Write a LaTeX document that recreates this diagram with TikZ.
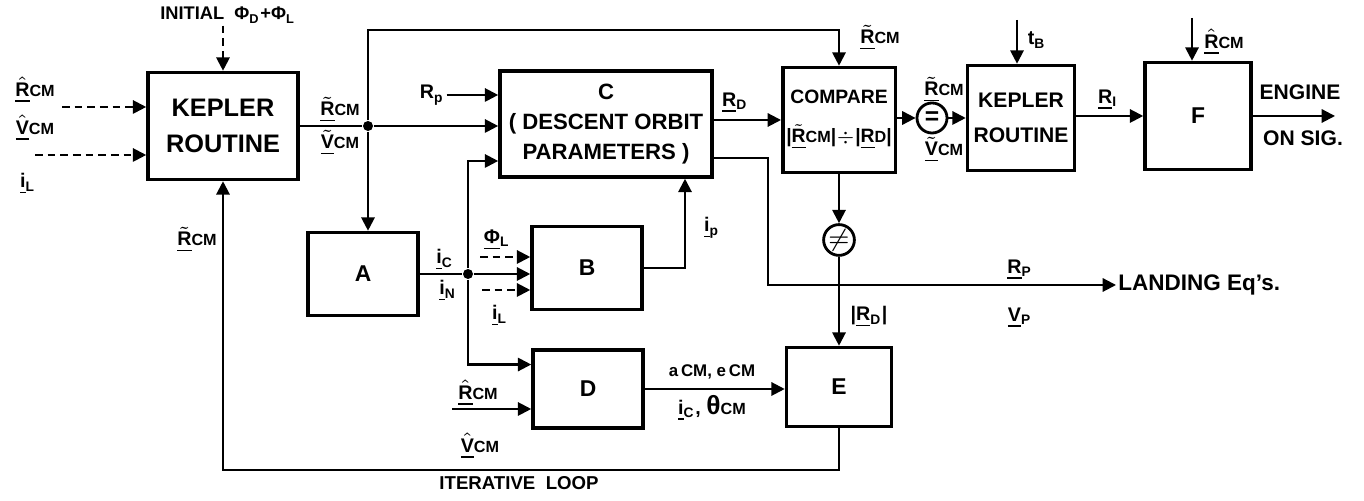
\documentclass[tikz,border=0pt]{standalone}
\usepackage{fontspec}
\setmainfont{Liberation Sans}
\usetikzlibrary{arrows.meta,calc}
\newcommand{\tilv}[1]{$\tilde{\mbox{\underline{#1}}}$}
\newcommand{\hatv}[1]{$\hat{\mbox{\underline{#1}}}$}
\newcommand{\sbs}[1]{{\fontsize{4.6}{5}\selectfont #1}}
\tikzset{
  blk/.style={draw, line width=1pt, align=center, inner sep=1pt, font=\fontsize{6.5}{9}\selectfont\bfseries},
  lab/.style={inner sep=0.5pt, align=center, font=\fontsize{5.6}{6.5}\selectfont\bfseries},
  arr/.style={line width=0.6pt, -{Triangle[length=3.8pt,width=3.8pt]}},
  darr/.style={arr, dash pattern=on 2.2pt off 1.4pt},
  jn/.style={circle, fill, inner sep=0pt, minimum size=1mm},
  cmpc/.style={draw, circle, line width=0.8pt, inner sep=0pt, minimum size=3mm, font=\fontsize{7}{8}\selectfont\bfseries}
}
\begin{document}
\begin{tikzpicture}[x=0.01cm,y=-0.01cm]
\useasboundingbox (0,0) rectangle (1364,501);
% blocks
\node[blk, font=\fontsize{7.2}{10}\selectfont\bfseries, minimum width=1.5cm, minimum height=1.07cm] (kep1) at (223,126) {KEPLER\\ROUTINE};
\node[blk, font=\fontsize{6.3}{8.6}\selectfont\bfseries, minimum width=2.12cm, minimum height=1.06cm] (cbox) at (606,124) {C\\( DESCENT ORBIT\\PARAMETERS )};
\node[blk, font=\fontsize{5.5}{9}\selectfont\bfseries, minimum width=1.08cm, minimum height=1.05cm] (cmp) at (839,120) {COMPARE\\[2pt]|\tilv{R}\sbs{CM}|$\div$|\underline{R}\sbs{D}|};
\node[blk, font=\fontsize{6}{10}\selectfont\bfseries, minimum width=1.07cm, minimum height=1.05cm] (kep2) at (1021,118) {KEPLER\\ROUTINE};
\node[blk, minimum width=1.06cm, minimum height=1.07cm] (fbox) at (1198,116) {F};
\node[blk, minimum width=1.1cm, minimum height=0.83cm] (abox) at (363,274) {A};
\node[blk, minimum width=1.1cm, minimum height=0.83cm] (bbox) at (587,268) {B};
\node[blk, minimum width=1.1cm, minimum height=0.78cm] (dbox) at (588,389) {D};
\node[blk, minimum width=1.05cm, minimum height=0.79cm] (ebox) at (839,387) {E};
\node[cmpc] (neq) at (839,240) {$\neq$};
\node[cmpc] (eqc) at (932,118) {=};
\node[jn] (j1) at (368,126) {};
\node[jn] (j2) at (468,274) {};
% labels
\node[lab, font=\fontsize{5.2}{6}\selectfont\bfseries] (initlab) at (228,15) {INITIAL\ \ Φ\textsubscript{D}+Φ\textsubscript{L}};
\node[lab] (rhlab) at (35,90) {\hatv{R}\sbs{CM}};
\node[lab] (vhlab) at (35,128) {\hatv{V}\sbs{CM}};
\node[lab] (illab) at (28,184) {\underline{i}\textsubscript{L}};
\node[lab] (rtlab) at (340,110) {\tilv{R}\sbs{CM}};
\node[lab] (vtlab) at (340,143) {\tilv{V}\sbs{CM}};
\node[lab] (rplab) at (432,95) {R\textsubscript{p}};
\node[lab] (looplab) at (197,240) {\tilv{R}\sbs{CM}};
\node[lab] (rdlab) at (735,103) {\underline{R}\textsubscript{D}};
\node[lab] (rclab) at (880,38) {\tilv{R}\sbs{CM}};
\node[lab] (rqlab) at (944,90) {\tilv{R}\sbs{CM}};
\node[lab] (vqlab) at (944,150) {\tilv{V}\sbs{CM}};
\node[lab] (tblab) at (1037,40) {t\textsubscript{B}};
\node[lab] (rilab) at (1108,100) {\underline{R}\textsubscript{I}};
\node[lab] (rflab) at (1224,42) {\hatv{R}\sbs{CM}};
\node[lab, font=\fontsize{6}{7}\selectfont\bfseries] (englab) at (1300,92) {ENGINE};
\node[lab, font=\fontsize{6}{7}\selectfont\bfseries] (siglab) at (1303,138) {ON SIG.};
\node[lab] (rplab2) at (1020,270) {\underline{R}\textsubscript{P}};
\node[lab] (vplab) at (1020,318) {\underline{V}\textsubscript{P}};
\node[lab, anchor=west, font=\fontsize{6.4}{7}\selectfont\bfseries] (landlab) at (1116,285) {LANDING\ Eq's.};
\node[lab] (rdabs) at (869,317) {|\underline{R}\textsubscript{D}|};
\node[lab] (iplab) at (712,228) {\underline{i}\textsubscript{p}};
\node[lab] (phlab) at (497,240) {\underline{Φ}\textsubscript{L}};
\node[lab] (ilblab) at (500,316) {\underline{i}\textsubscript{L}};
\node[lab] (iclab) at (445,260) {\underline{i}\textsubscript{C}};
\node[lab] (inlab) at (448,291) {\underline{i}\textsubscript{N}};
\node[lab] (rdhlab) at (478,393) {\hatv{R}\sbs{CM}};
\node[lab] (vdhlab) at (480,446) {\hatv{V}\sbs{CM}};
\node[lab, font=\fontsize{4.8}{5}\selectfont\bfseries] (aelab) at (712,372) {a\,CM, e\,CM};
\node[lab] (icthlab) at (712,408) {\underline{i}\textsubscript{C}, {\fontsize{7.5}{8}\selectfont θ}\sbs{CM}};
\node[lab, font=\fontsize{5.3}{6}\selectfont\bfseries] (itlab) at (519,483) {ITERATIVE\ \ LOOP};
% free ends and corners
\coordinate (rhin) at (62,107);
\coordinate (ilin) at (35,155);
\coordinate (ctop) at (368,30);
\coordinate (cin3) at (468,161);
\coordinate (phin) at (480,257);
\coordinate (ilbin) at (482,290);
\coordinate (dvin) at (452,409);
\coordinate (land) at (768,285);
\coordinate (tbin) at (1017,20);
\coordinate (rfin) at (1192,18);
\coordinate (eng) at (1335,116);
\coordinate (loopl) at (223,470);
% connectors
\draw[darr] (initlab.south -| kep1.north) -- (kep1.north);
\draw[darr] (rhin) -- (rhin -| kep1.west);
\draw[darr] (ilin) -- (ilin -| kep1.west);
\draw[line width=0.6pt] (kep1.east |- j1) -- (j1);
\draw[arr] (j1) -- (cbox.west |- j1);
\draw[arr] (j1) -- (ctop) -| (cmp.north);
\draw[arr] (j1) -- (j1 |- abox.north);
\draw[arr] (rplab.east) -- (rplab -| cbox.west);
\draw[line width=0.6pt] (abox.east |- j2) -- (j2);
\draw[arr] (j2) -- (bbox.west |- j2);
\draw[arr] (j2) -- (cin3) -- (cbox.west |- cin3);
\draw[arr] (j2) |- ($(dbox.north west)!.2!(dbox.south west)$);
\draw[darr] (phin) -- (phin -| bbox.west);
\draw[darr] (ilbin) -- (ilbin -| bbox.west);
\draw[arr] (dvin) -- (dvin -| dbox.west);
\draw[arr] (bbox.east) -| (cbox.south -| 685,0);
\draw[arr] (cbox.east |- cmp.west) -- (cmp.west);
\draw[arr] (cbox.east |- 0,158) -| (land) -- (landlab.west);
\draw[arr] (cmp) -- (neq);
\draw[arr] (neq) -- (ebox);
\draw[arr] (cmp.east |- eqc) -- (eqc);
\draw[arr] (eqc) -- (eqc -| kep2.west);
\draw[arr] (tbin) -- (tbin |- kep2.north);
\draw[arr] (kep2.east |- fbox) -- (fbox.west);
\draw[arr] (rfin) -- (rfin |- fbox.north);
\draw[arr] (fbox.east) -- (eng);
\draw[arr] (dbox) -- (dbox -| ebox.west);
\draw[arr] (ebox.south) |- (loopl) -- (kep1.south);
\end{tikzpicture}
\end{document}
